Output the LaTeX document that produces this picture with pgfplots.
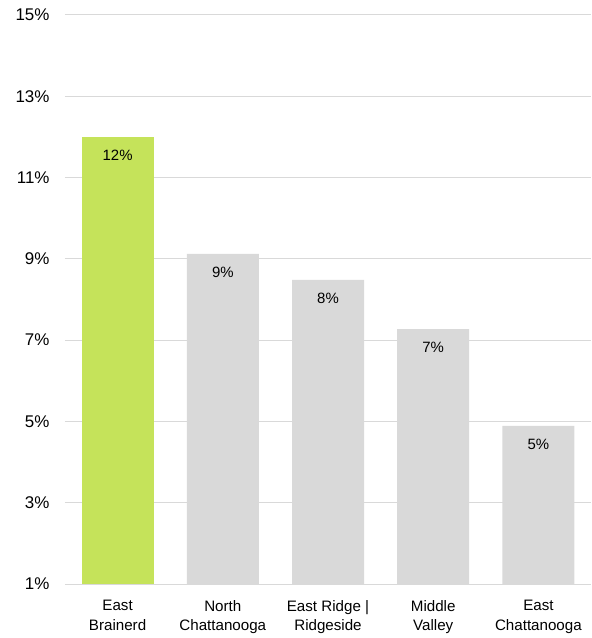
\documentclass[border=0pt]{standalone}
\usepackage{fontspec}
\setmainfont{Liberation Sans}
\usepackage{pgfplots}
\pgfplotsset{compat=1.18}
\definecolor{grn}{HTML}{C5E35A}
\definecolor{gry}{HTML}{D9D9D9}
\definecolor{gridc}{HTML}{D9D9D9}
\begin{document}
\begin{tikzpicture}
\begin{axis}[
  name=ax,
  at={(0,0)}, anchor=south west,
  scale only axis,
  width=526bp, height=569bp,
  xmin=-0.5, xmax=4.5,
  ymin=1, ymax=15,
  ytick={1,3,5,7,9,11,13,15},
  yticklabel={\pgfmathprintnumber{\tick}\%},
  /pgf/number format/assume math mode=true,
  yticklabel style={font=\fontsize{17}{20}\selectfont, xshift=-12bp},
  xtick={0,1,2,3,4},
  xticklabels={East\\Brainerd, North\\Chattanooga, East Ridge |\\Ridgeside, Middle\\Valley, East\\Chattanooga},
  xticklabel style={align=center, font=\fontsize{15.2}{19.5}\selectfont, yshift=-13bp},
  major tick length=0pt,
  axis line style={draw=none},
  xmajorgrids=false,
  ymajorgrids=true, grid style={draw=gridc, line width=1bp},
  ybar, bar width=72bp,
  nodes near coords,
  point meta=explicit symbolic,
  every node near coord/.append style={anchor=center, yshift=-18bp, font=\fontsize{15}{18}\selectfont, text=black},
  clip=false,
]
\addplot[fill=grn, draw=none, bar shift=0pt] coordinates {(0,12.0) [12\%]};
\addplot[fill=gry, draw=none, bar shift=0pt] coordinates {(1,9.12) [9\%] (2,8.48) [8\%] (3,7.27) [7\%] (4,4.89) [5\%]};
\draw[gridc, line width=1bp] (rel axis cs:0,0) -- (rel axis cs:1,0);
\end{axis}
\path[use as bounding box] (ax.south west)++(-65bp,-54bp) rectangle ([shift={(0bp,15bp)}]ax.north east);
\end{tikzpicture}
\end{document}
